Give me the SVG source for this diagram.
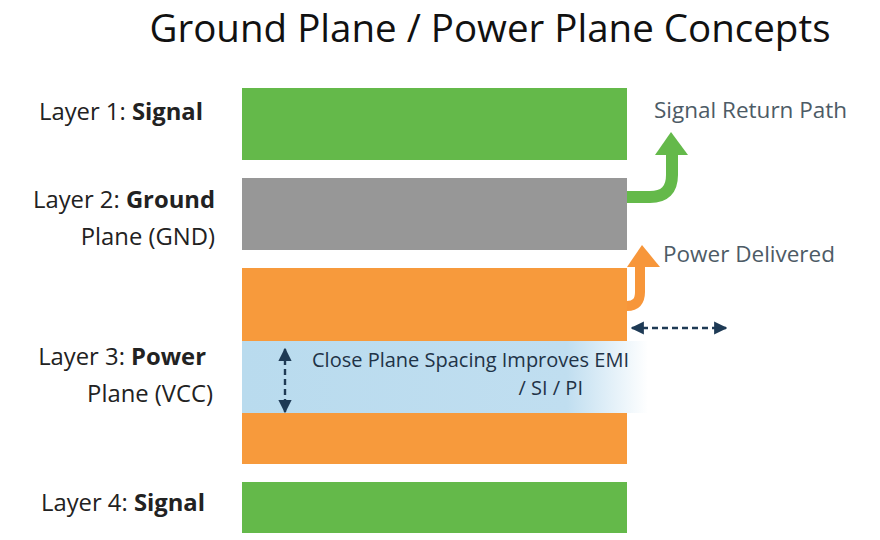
<svg xmlns="http://www.w3.org/2000/svg" width="880" height="540" viewBox="0 0 880 540">
<defs>
<style>
text{font-family:"Open Sans","Noto Sans","Liberation Sans",sans-serif}
.lbl{font-size:23.8px;fill:#222}
.b{font-weight:700}
.note{font-size:22.5px;fill:#4d5b66}
.dash{stroke:#1e3a55;stroke-width:2.4;stroke-dasharray:6 4;fill:none}
</style>
<linearGradient id="blueFade" gradientUnits="userSpaceOnUse" x1="242" y1="0" x2="648" y2="0">
<stop offset="0" stop-color="#b9dbee"/>
<stop offset="0.8" stop-color="#c0def0"/>
<stop offset="1" stop-color="#ffffff"/>
</linearGradient>
<marker id="ah" viewBox="0 0 10 10" refX="9" refY="5" markerWidth="5.5" markerHeight="5.5" orient="auto-start-reverse" markerUnits="strokeWidth">
<path d="M0,0 L10,5 L0,10 z" fill="#1e3a55"/>
</marker>
</defs>
<rect width="880" height="540" fill="#ffffff"/>
<text x="490" y="42" font-size="38.5" fill="#111" text-anchor="middle">Ground Plane / Power Plane Concepts</text>

<g id="layer1">
<rect x="242" y="88" width="385" height="72" fill="#64b94a"/>
<text class="lbl" x="203" y="120" text-anchor="end">Layer 1: <tspan class="b">Signal</tspan></text>
</g>
<g id="layer2">
<rect x="242" y="178" width="385" height="72" fill="#979797"/>
<text class="lbl" x="215" y="208" text-anchor="end">Layer 2: <tspan class="b">Ground</tspan></text>
<text class="lbl" x="215" y="245" text-anchor="end">Plane (GND)</text>
</g>
<g id="layer3">
<rect x="242" y="341" width="406" height="72" fill="url(#blueFade)"/>
<rect x="242" y="268" width="385" height="73" fill="#f79a3c"/>
<rect x="242" y="413" width="385" height="51" fill="#f79a3c"/>
<text class="lbl" x="206" y="365" text-anchor="end">Layer 3: <tspan class="b">Power</tspan></text>
<text class="lbl" x="213" y="402" text-anchor="end">Plane (VCC)</text>
<text font-size="20" fill="#1f3347"><tspan x="312" y="367">Close Plane Spacing Improves EMI</tspan><tspan x="583" y="395" text-anchor="end">/ SI / PI</tspan></text>
</g>
<g id="layer4">
<rect x="242" y="482" width="385" height="51" fill="#64b94a"/>
<text class="lbl" x="205" y="511" text-anchor="end">Layer 4: <tspan class="b">Signal</tspan></text>
</g>

<g id="connectors">
<path d="M627,197 H650 Q672,197 672,175 V152" fill="none" stroke="#64b94a" stroke-width="12"/>
<path d="M655,155 L671,132 L688,155 z" fill="#64b94a"/>
<path d="M627,306 Q640,306 640,292 V264" fill="none" stroke="#f7963a" stroke-width="10"/>
<path d="M627,267 L642,245 L660,267 z" fill="#f7963a"/>
<line class="dash" x1="632" y1="328" x2="726" y2="328" marker-start="url(#ah)" marker-end="url(#ah)"/>
<line class="dash" x1="285" y1="349" x2="285" y2="412" marker-start="url(#ah)" marker-end="url(#ah)"/>
</g>
<text class="note" x="654" y="118">Signal Return Path</text>
<text class="note" x="663" y="262">Power Delivered</text>
</svg>
